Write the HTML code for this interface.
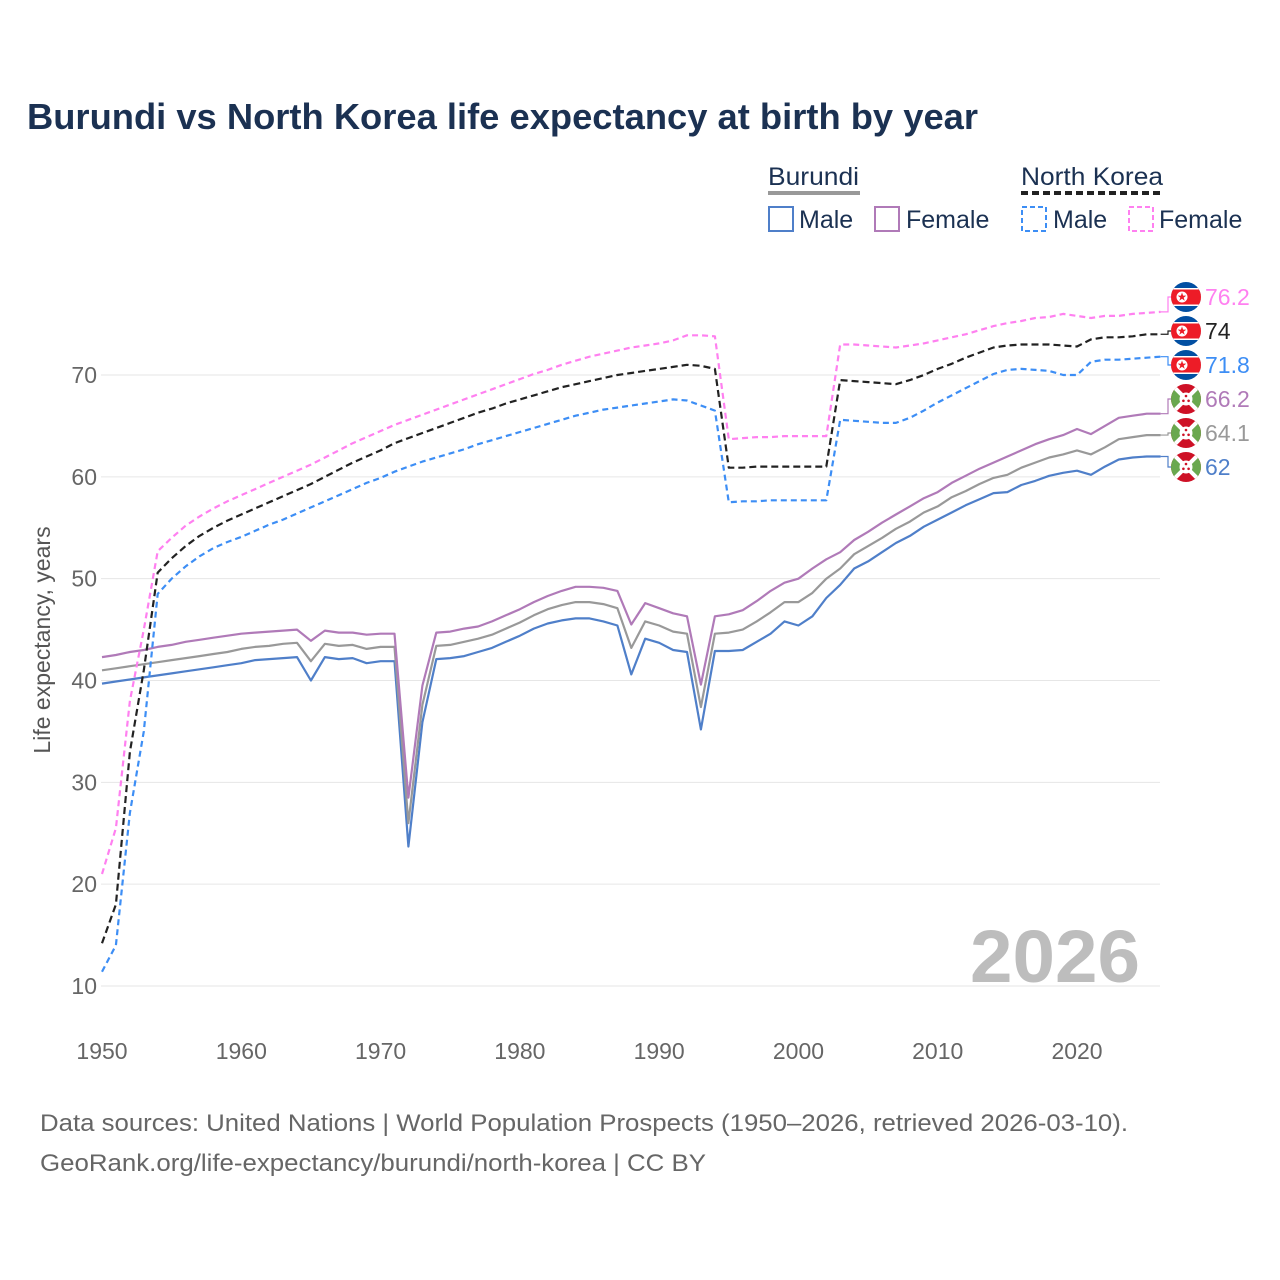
<!DOCTYPE html>
<html><head><meta charset="utf-8">
<style>
body{margin:0;background:#fff;}
svg{display:block;font-family:"Liberation Sans",sans-serif;}
</style></head>
<body>
<svg id="chart" width="1280" height="1280" viewBox="0 0 1280 1280">
<defs>
<clipPath id="fc"><circle cx="0" cy="0" r="15"/></clipPath>
<g id="nk">
<rect x="-15" y="-15" width="30" height="30" fill="#024fa2"/>
<rect x="-15" y="-9" width="30" height="18" fill="#fff"/>
<rect x="-15" y="-7.5" width="30" height="15" fill="#ed1c27"/>
<circle cx="-4" cy="0" r="5.5" fill="#fff"/>
<polygon points="-4,-4.5 -2.9,-1.4 0.3,-1.4 -2.3,0.6 -1.3,3.7 -4,1.8 -6.7,3.7 -5.7,0.6 -8.3,-1.4 -5.1,-1.4" fill="#ed1c27"/>
</g>
<g id="bi">
<rect x="-15" y="-15" width="30" height="30" fill="#ce1126"/>
<polygon points="-15,-15 0,0 -15,15" fill="#6aa84f"/>
<polygon points="15,-15 0,0 15,15" fill="#6aa84f"/>
<line x1="-15" y1="-15" x2="15" y2="15" stroke="#fff" stroke-width="4"/>
<line x1="15" y1="-15" x2="-15" y2="15" stroke="#fff" stroke-width="4"/>
<circle cx="0" cy="0" r="6.5" fill="#fff"/>
<circle cx="0" cy="-3" r="1.3" fill="#ce1126"/>
<circle cx="-2.6" cy="1.8" r="1.3" fill="#ce1126"/>
<circle cx="2.6" cy="1.8" r="1.3" fill="#ce1126"/>
</g>
</defs>
<text x="27" y="129" font-size="36" font-weight="bold" fill="#1b3152" textLength="951" lengthAdjust="spacingAndGlyphs">Burundi vs North Korea life expectancy at birth by year</text>

<g>
<text x="768" y="185" font-size="25" fill="#1b3152" textLength="91" lengthAdjust="spacingAndGlyphs">Burundi</text>
<line x1="768" y1="193" x2="860" y2="193" stroke="#999" stroke-width="4"/>
<text x="1021" y="185" font-size="25" fill="#1b3152" textLength="142" lengthAdjust="spacingAndGlyphs">North Korea</text>
<line x1="1021" y1="193" x2="1164" y2="193" stroke="#222" stroke-width="4" stroke-dasharray="7,4"/>
<g><rect x="769" y="207" width="24" height="24" fill="none" stroke="#4f7fc9" stroke-width="2"/><text x="799" y="228" font-size="25" fill="#1b3152">Male</text></g>
<g><rect x="875" y="207" width="24" height="24" fill="none" stroke="#b07ab8" stroke-width="2"/><text x="906" y="228" font-size="25" fill="#1b3152">Female</text></g>
<g><rect x="1022" y="207" width="24" height="24" fill="none" stroke="#3d8ef5" stroke-width="2" stroke-dasharray="5,3"/><text x="1053" y="228" font-size="25" fill="#1b3152">Male</text></g>
<g><rect x="1129" y="207" width="24" height="24" fill="none" stroke="#ff80f0" stroke-width="2" stroke-dasharray="5,3"/><text x="1159" y="228" font-size="25" fill="#1b3152">Female</text></g>
</g>

<g id="grid"></g>
<g id="axes"></g>
<text x="1140" y="982" font-size="74" font-weight="bold" fill="#bdbdbd" text-anchor="end" textLength="170" lengthAdjust="spacingAndGlyphs">2026</text>
<text transform="translate(50,640) rotate(-90)" font-size="23" fill="#555" text-anchor="middle">Life expectancy, years</text>
<g id="series"></g>
<g id="labels"></g>

<text x="40" y="1131" font-size="24" fill="#666" textLength="1088" lengthAdjust="spacingAndGlyphs">Data sources: United Nations | World Population Prospects (1950–2026, retrieved 2026-03-10).</text>
<text x="40" y="1171" font-size="24" fill="#666" textLength="666" lengthAdjust="spacingAndGlyphs">GeoRank.org/life-expectancy/burundi/north-korea | CC BY</text>
</svg>
<script>
const startYear = 1950;
const xTicks = [1950,1960,1970,1980,1990,2000,2010,2020];
const yTicks = [10,20,30,40,50,60,70];
const buMale = [39.7,39.9,40.1,40.3,40.5,40.7,40.9,41.1,41.3,41.5,41.7,42.0,42.1,42.2,42.3,40.0,42.3,42.1,42.2,41.7,41.9,41.9,23.7,35.9,42.1,42.2,42.4,42.8,43.2,43.8,44.4,45.1,45.6,45.9,46.1,46.1,45.8,45.4,40.6,44.1,43.7,43.0,42.8,35.2,42.9,42.9,43.0,43.8,44.6,45.8,45.4,46.3,48.1,49.4,51.0,51.7,52.6,53.5,54.2,55.1,55.8,56.5,57.2,57.8,58.4,58.5,59.2,59.6,60.1,60.4,60.6,60.2,61.0,61.7,61.9,62.0,62.0];
const buTotal = [41.0,41.2,41.4,41.6,41.8,42.0,42.2,42.4,42.6,42.8,43.1,43.3,43.4,43.6,43.7,41.9,43.6,43.4,43.5,43.1,43.3,43.3,26.0,37.6,43.4,43.5,43.8,44.1,44.5,45.1,45.7,46.4,47.0,47.4,47.7,47.7,47.5,47.1,43.2,45.8,45.4,44.8,44.6,37.4,44.6,44.7,45.0,45.8,46.7,47.7,47.7,48.6,50.0,51.0,52.4,53.2,54.0,54.9,55.6,56.5,57.1,58.0,58.6,59.3,59.9,60.2,60.9,61.4,61.9,62.2,62.6,62.2,62.9,63.7,63.9,64.1,64.1];
const buFemale = [42.3,42.5,42.8,43.0,43.3,43.5,43.8,44.0,44.2,44.4,44.6,44.7,44.8,44.9,45.0,43.9,44.9,44.7,44.7,44.5,44.6,44.6,28.5,39.5,44.7,44.8,45.1,45.3,45.8,46.4,47.0,47.7,48.3,48.8,49.2,49.2,49.1,48.8,45.5,47.6,47.1,46.6,46.3,39.6,46.3,46.5,46.9,47.8,48.8,49.6,50.0,51.0,51.9,52.6,53.8,54.6,55.5,56.3,57.1,57.9,58.5,59.4,60.1,60.8,61.4,62.0,62.6,63.2,63.7,64.1,64.7,64.2,65.0,65.8,66.0,66.2,66.2];
const nkMale = [11.4,14.0,27.0,35.0,48.5,50.0,51.2,52.2,53.0,53.6,54.1,54.7,55.3,55.8,56.4,57.0,57.6,58.2,58.8,59.4,59.9,60.5,61.0,61.5,61.9,62.3,62.7,63.2,63.6,64.0,64.4,64.8,65.2,65.6,66.0,66.3,66.6,66.8,67.0,67.2,67.4,67.6,67.5,67.0,66.5,57.5,57.6,57.6,57.7,57.7,57.7,57.7,57.7,65.6,65.5,65.4,65.3,65.3,65.8,66.5,67.3,68.0,68.7,69.4,70.1,70.5,70.6,70.5,70.4,70.0,70.0,71.3,71.5,71.5,71.6,71.7,71.8];
const nkTotal = [14.2,18.0,33.0,41.0,50.6,52.0,53.2,54.2,55.0,55.7,56.3,56.9,57.5,58.1,58.7,59.3,60.0,60.7,61.4,62.0,62.6,63.3,63.8,64.3,64.8,65.3,65.8,66.3,66.7,67.2,67.6,68.0,68.4,68.8,69.1,69.4,69.7,70.0,70.2,70.4,70.6,70.8,71.0,70.9,70.6,60.9,60.9,61.0,61.0,61.0,61.0,61.0,61.0,69.5,69.4,69.3,69.2,69.1,69.5,70.0,70.6,71.1,71.7,72.2,72.7,72.9,73.0,73.0,73.0,72.9,72.8,73.5,73.7,73.7,73.8,74.0,74.0];
const nkFemale = [21.0,25.5,38.0,45.0,52.7,54.0,55.2,56.1,56.9,57.6,58.2,58.8,59.4,60.0,60.6,61.2,61.9,62.6,63.3,63.9,64.5,65.1,65.6,66.1,66.6,67.1,67.6,68.1,68.6,69.1,69.6,70.1,70.5,71.0,71.4,71.8,72.1,72.4,72.7,72.9,73.1,73.4,73.9,73.9,73.8,63.7,63.8,63.9,63.9,64.0,64.0,64.0,64.0,73.0,73.0,72.9,72.8,72.7,72.9,73.1,73.4,73.7,74.0,74.4,74.8,75.1,75.3,75.6,75.7,76.0,75.8,75.6,75.8,75.8,76.0,76.1,76.2];
const endLabels = ["76.2","74","71.8","66.2","64.1","62"];

const NS = "http://www.w3.org/2000/svg";
const X0 = 102, X1 = 1160.6, Y10 = 986, Y70 = 375;
function xs(yr){ return X0 + (yr - 1950) * (X1 - X0) / 76; }
function ys(v){ return Y10 + (v - 10) * (Y70 - Y10) / 60; }
function mk(tag, attrs, parent){ const e = document.createElementNS(NS, tag); for (const k in attrs) e.setAttribute(k, attrs[k]); parent.appendChild(e); return e; }

const grid = document.getElementById('grid');
const axes = document.getElementById('axes');
yTicks.forEach(v => {
  const l = mk('line', {x1:101, x2:1160, y1:ys(v), y2:ys(v), stroke:'#e6e6e6', 'stroke-width':1}, grid);
  
  
  const t = mk('text', {x:97, y:ys(v)+8, 'font-size':23, fill:'#666', 'text-anchor':'end'}, axes);
  t.textContent = v;
  
  
});
xTicks.forEach(yr => {
  const t = mk('text', {x:xs(yr), y:1059, 'font-size':23, fill:'#666', 'text-anchor':'middle'}, axes);
  t.textContent = yr;
  
  
});

const series = [
  {d:nkFemale, c:'#ff80f0', dash:'6,4', name:'north-korea-female', flag:'nk'},
  {d:nkTotal, c:'#222', dash:'7,4', name:'north-korea-total', flag:'nk'},
  {d:nkMale, c:'#3d8ef5', dash:'6,4', name:'north-korea-male', flag:'nk'},
  {d:buFemale, c:'#b07ab8', dash:null, name:'burundi-female', flag:'bi'},
  {d:buTotal, c:'#999', dash:null, name:'burundi-total', flag:'bi'},
  {d:buMale, c:'#4f7fc9', dash:null, name:'burundi-male', flag:'bi'}
];
const sg = document.getElementById('series');
const lg = document.getElementById('labels');
const labelY0 = 297, labelStep = 34;
series.slice().reverse().forEach(s => {
  const pts = s.d.map((v,i) => xs(startYear+i).toFixed(1) + ',' + ys(v).toFixed(1)).join(' ');
  const p = mk('polyline', {points:pts, fill:'none', stroke:s.c, 'stroke-width':2.2, 'stroke-linejoin':'round'}, sg);
  if (s.dash) p.setAttribute('stroke-dasharray', s.dash);
  
  
});
series.forEach((s, i) => {
  const ly = labelY0 + i * labelStep;
  const last = s.d[s.d.length-1];
  const ex = xs(startYear + s.d.length - 1);
  const lead = mk('polyline', {points: ex+','+ys(last)+' 1168,'+ys(last)+' 1168,'+ly+' 1172,'+ly, fill:'none', stroke:s.c, 'stroke-width':1.2}, lg);
  
  
  const g = mk('g', {transform:'translate(1186,'+ly+')', 'clip-path':'url(#fc)'}, lg);
  mk('use', {href:'#'+s.flag}, g);
  
  
  const t = mk('text', {x:1205, y:ly+8, 'font-size':23, fill:s.c}, lg);
  t.textContent = endLabels[i];
  
  
});
</script>
</body></html>
